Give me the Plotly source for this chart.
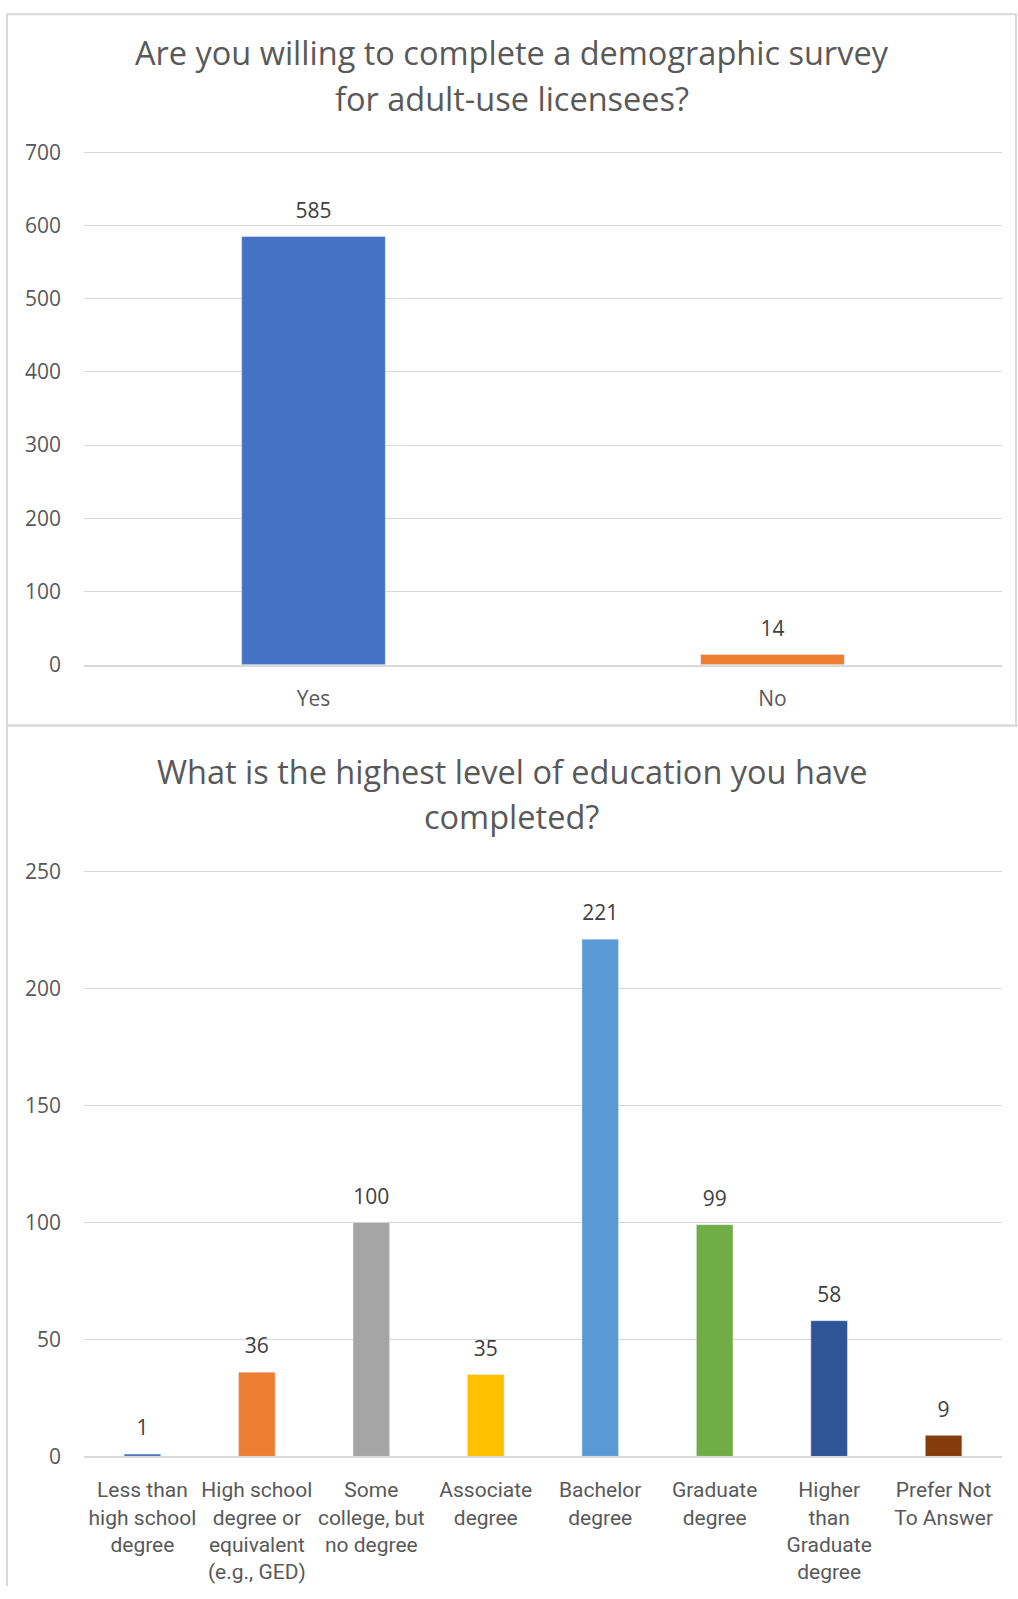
import plotly.graph_objects as go

# Chart 1 data
q1_title_lines = ["Are you willing to complete a demographic survey", "for adult-use licensees?"]
q1_categories = ["Yes", "No"]
q1_values = [585, 14]
q1_colors = ["#4472C4", "#ED7D31"]
q1_ticks = [0, 100, 200, 300, 400, 500, 600, 700]

# Chart 2 data
q2_title_lines = ["What is the highest level of education you have", "completed?"]
q2_categories = [
    "Less than<br>high school<br>degree",
    "High school<br>degree or<br>equivalent<br>(e.g., GED)",
    "Some<br>college, but<br>no degree",
    "Associate<br>degree",
    "Bachelor<br>degree",
    "Graduate<br>degree",
    "Higher<br>than<br>Graduate<br>degree",
    "Prefer Not<br>To Answer",
]
q2_values = [1, 36, 100, 35, 221, 99, 58, 9]
q2_colors = ["#4472C4", "#ED7D31", "#A5A5A5", "#FFC000", "#5B9BD5", "#70AD47", "#2F5597", "#843C0C"]
q2_ticks = [0, 50, 100, 150, 200, 250]

W, H = 1018, 1599
def py(p):
    return 1 - p / H
def px(p):
    return p / W

LABEL_FONT = "Open Sans, Noto Sans, sans-serif"
CAT_FONT = "Roboto, Open Sans, sans-serif"
TXT = "#404040"
AX = "#595959"

fig = go.Figure()
fig.add_trace(go.Bar(
    x=q1_categories, y=q1_values, marker_color=q1_colors, width=0.313,
    xaxis="x", yaxis="y", showlegend=False, hoverinfo="skip",
))
fig.add_trace(go.Scatter(
    x=q1_categories, y=q1_values, mode="markers+text", text=q1_values,
    textposition="top center", marker=dict(size=20, color="rgba(0,0,0,0)"),
    textfont=dict(size=21, color=TXT, family=LABEL_FONT), cliponaxis=False,
    xaxis="x", yaxis="y", showlegend=False, hoverinfo="skip",
))
fig.add_trace(go.Bar(
    x=q2_categories, y=q2_values, marker_color=q2_colors, width=0.32,
    xaxis="x2", yaxis="y2", showlegend=False, hoverinfo="skip",
))
fig.add_trace(go.Scatter(
    x=q2_categories, y=q2_values, mode="markers+text", text=q2_values,
    textposition="top center", marker=dict(size=20, color="rgba(0,0,0,0)"),
    textfont=dict(size=21, color=TXT, family=LABEL_FONT), cliponaxis=False,
    xaxis="x2", yaxis="y2", showlegend=False, hoverinfo="skip",
))

grid = "#D9D9D9"
common_y = dict(showgrid=True, gridcolor=grid, gridwidth=1.3, zeroline=False,
                showline=False, ticks="", ticklabelstandoff=22,
                tickfont=dict(size=21, color=AX, family=LABEL_FONT))
common_x = dict(showgrid=False, zeroline=False, showline=True, linecolor=grid, linewidth=1.5,
                ticks="", tickangle=0, ticklabelstandoff=14)

def title_annots(lines, ys):
    out = []
    for line, yy in zip(lines, ys):
        out.append(dict(text=line, x=px(512), y=py(yy), xref="paper", yref="paper",
                        showarrow=False, xanchor="center", yanchor="middle",
                        font=dict(size=32.5, color=AX, family=LABEL_FONT)))
    return out

fig.update_layout(
    width=W, height=H,
    margin=dict(l=0, r=0, t=0, b=0),
    paper_bgcolor="white", plot_bgcolor="white",
    xaxis=dict(domain=[px(84), px(1002)], anchor="y", **common_x,
               tickfont=dict(size=21, color=AX, family=LABEL_FONT)),
    yaxis=dict(domain=[py(662.4), py(140.2)], anchor="x", range=[0, 702], tickvals=q1_ticks, **common_y),
    xaxis2=dict(domain=[px(84), px(1002)], anchor="y2", **common_x,
                tickfont=dict(size=21, color=AX, family=CAT_FONT)),
    yaxis2=dict(domain=[py(1467.3), py(870.1)], anchor="x2", range=[0, 251], tickvals=q2_ticks, **common_y),
    annotations=title_annots(q1_title_lines, [40.5, 87]) + title_annots(q2_title_lines, [771.5, 817]),
    shapes=[
        dict(type="rect", xref="paper", yref="paper", x0=px(7), x1=px(1016), y0=py(724.3), y1=py(1.2),
             line=dict(color="#D9D9D9", width=2), fillcolor="rgba(0,0,0,0)"),
        dict(type="line", xref="paper", yref="paper", x0=px(7), x1=1, y0=py(724.3), y1=py(724.3),
             line=dict(color="#D9D9D9", width=2)),
        dict(type="line", xref="paper", yref="paper", x0=px(7), x1=px(7), y0=py(724.3), y1=0,
             line=dict(color="#D9D9D9", width=2)),
    ],
)

post = (
    "var d=document.getElementById('{plot_id}');"
    "d.style.position='fixed';d.style.top='0px';d.style.left='0px';"
    "document.documentElement.style.overflow='hidden';"
    "document.body.style.margin='0';document.body.style.padding='0';"
    "document.body.style.overflow='hidden';"
)
fig.write_html("out.html", config={"displayModeBar": False}, post_script=post)
